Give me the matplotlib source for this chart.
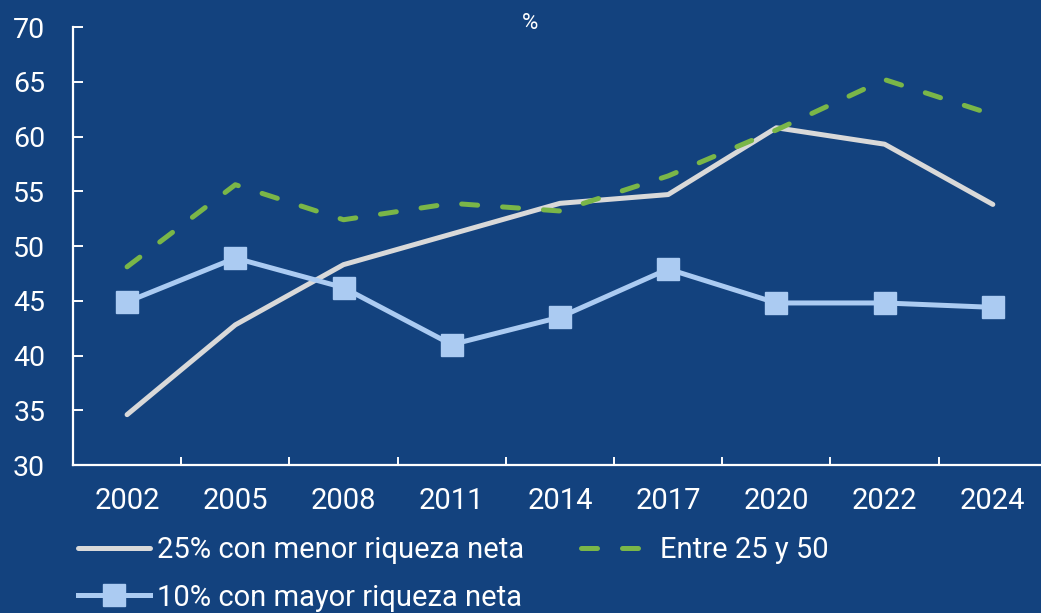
import matplotlib.pyplot as plt
import numpy as np

plt.rcParams['font.family'] = ['Roboto', 'DejaVu Sans']

years = ['2002', '2005', '2008', '2011', '2014', '2017', '2020', '2022', '2024']
menor_25 = [34.6, 42.8, 48.3, 51.1, 53.9, 54.7, 60.8, 59.3, 53.8]
entre_25_50 = [48.1, 55.6, 52.4, 53.9, 53.2, 56.4, 60.6, 65.2, 62.0]
mayor_10 = [44.9, 48.9, 46.2, 41.0, 43.5, 47.9, 44.8, 44.8, 44.4]

BG = '#13427e'
GRIS = '#d9d9d9'
VERDE = '#7ab648'
AZUL = '#abcbf2'

fig = plt.figure(figsize=(10.41, 6.13), dpi=100, facecolor=BG)
ax = fig.add_axes([0.0701, 0.2414, 0.9356, 0.7145], facecolor=BG)

x = np.arange(len(years))
l1, = ax.plot(x, menor_25, color=GRIS, linewidth=3.6, solid_capstyle='round',
              label='25% con menor riqueza neta')
l3, = ax.plot(x, entre_25_50, color=VERDE, linewidth=3.6, linestyle=(0, (3.2, 5.0)),
              dash_capstyle='round', label='Entre 25 y 50')
l2, = ax.plot(x, mayor_10, color=AZUL, linewidth=3.6, marker='s', markersize=16,
              markeredgecolor=AZUL, label='10% con mayor riqueza neta')

ax.set_xlim(-0.5, len(years) - 0.5)
ax.set_ylim(30, 70)
ax.set_yticks(range(30, 71, 5))
ax.set_xticks(x)
ax.set_xticklabels(years)
ax.set_xticks(np.arange(0.5, len(years) - 0.5, 1), minor=True)

for s in ['top', 'right']:
    ax.spines[s].set_visible(False)
for s in ['left', 'bottom']:
    ax.spines[s].set_color('white')
    ax.spines[s].set_linewidth(1.6)

ax.tick_params(axis='y', direction='in', length=7, width=1.4, color='white',
               labelcolor='white', labelsize=20.5, pad=20)
ax.tick_params(axis='x', which='major', length=0, labelcolor='white', labelsize=21, pad=16)
ax.tick_params(axis='x', which='minor', direction='in', length=6, width=1.4, color='white')

fig.text(0.509, 0.962, '%', color='white', fontsize=16, ha='center', va='center')

fig.legend(handles=[l1, l2, l3], loc='upper left', bbox_to_anchor=(0.075, 0.126),
           ncol=2, frameon=False, fontsize=21, labelcolor='white', handlelength=2.45,
           handletextpad=0.25, columnspacing=1.95, labelspacing=0.68, borderaxespad=0,
           borderpad=0)

fig.savefig('out.png', dpi=100, facecolor=BG)
